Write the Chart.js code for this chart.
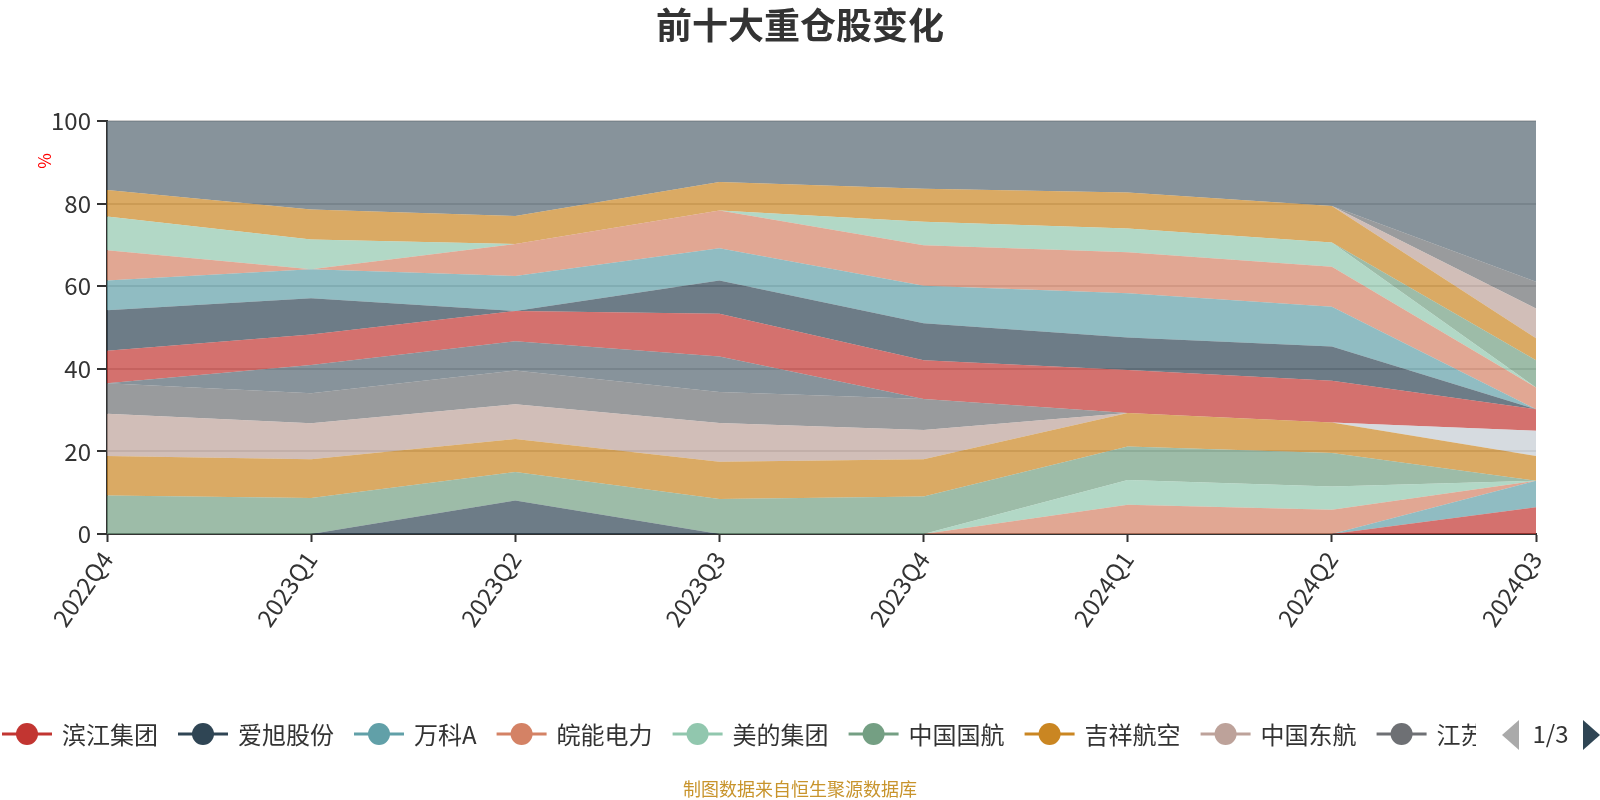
<!DOCTYPE html>
<html>
<head>
<meta charset="utf-8">
<script src="https://cdn.jsdelivr.net/npm/chart.js@4.4.1/dist/chart.umd.min.js"></script>
<style>
html, body { margin: 0; padding: 0; background: #ffffff; }
#wrap { width: 1600px; height: 800px; }
</style>
</head>
<body>
<div id="wrap"><canvas id="c" width="1600" height="800"></canvas></div>
<script>
// ---- categories & labels ----
const quarters = ['2022Q4', '2023Q1', '2023Q2', '2023Q3', '2023Q4', '2024Q1', '2024Q2', '2024Q3'];
const seriesNames = ['滨江集团', '爱旭股份', '万科A', '皖能电力', '美的集团', '中国国航', '吉祥航空', '中国东航', '江苏银行',
  '持仓10', '持仓11', '持仓12', '持仓13', '持仓14', '持仓15', '持仓16', '持仓17', '持仓18', '持仓19', '持仓20', '其他'];
const palette = ['#c23531', '#2f4554', '#61a0a8', '#d48265', '#91c7ae', '#749f83', '#ca8622', '#bda29a', '#6e7074', '#546570', '#c4ccd3'];
const yTicks = [0, 20, 40, 60, 80, 100];
const legendPageText = '1/3';
const titleText = '前十大重仓股变化';
const sourceText = '制图数据来自恒生聚源数据库';
const yUnit = '%';

// ---- series values (%), one array per series, stacked in this order ----
const s00 = [0, 0, 0, 0, 0, 0, 0, 6.5];
const s01 = [0, 0, 8.1, 0, 0, 0, 0, 0];
const s02 = [0, 0, 0, 0, 0, 0, 0, 6.4];
const s03 = [0, 0, 0, 0, 0, 7.1, 5.9, 0];
const s04 = [0, 0, 0, 0, 0, 6.0, 5.6, 0];
const s05 = [9.3, 8.7, 6.9, 8.5, 9.1, 8.1, 8.1, 0];
const s06 = [9.6, 9.4, 8.0, 9.0, 9.0, 8.1, 7.4, 6.0];
const s07 = [10.2, 8.7, 8.4, 9.4, 7.1, 0, 0, 0];
const s08 = [7.4, 7.3, 8.2, 7.5, 7.5, 0, 0, 0];
const s09 = [0, 6.8, 7.1, 8.6, 0, 0, 0, 0];
const s10 = [0, 0, 0, 0, 0, 0, 0, 6.1];
const s11 = [7.9, 7.4, 7.3, 10.3, 9.4, 10.4, 10.1, 5.2];
const s12 = [9.8, 8.8, 0, 8.1, 8.9, 7.9, 8.3, 0];
const s13 = [7.2, 7.0, 8.5, 7.8, 9.1, 10.7, 9.6, 0];
const s14 = [7.3, 0, 7.7, 9.1, 9.8, 9.9, 9.7, 5.3];
const s15 = [8.2, 7.2, 0, 0, 5.7, 5.8, 5.9, 0];
const s16 = [0, 0, 0, 0, 0, 0, 0, 6.6];
const s17 = [6.4, 7.3, 6.8, 6.9, 8.0, 8.7, 8.8, 5.3];
const s18 = [0, 0, 0, 0, 0, 0, 0, 7.2];
const s19 = [0, 0, 0, 0, 0, 0, 0, 6.5];
const s20 = [16.7, 21.4, 23.0, 14.8, 16.4, 17.3, 20.6, 38.9];
const seriesValues = [s00, s01, s02, s03, s04, s05, s06, s07, s08, s09, s10,
  s11, s12, s13, s14, s15, s16, s17, s18, s19, s20];

const FONT = "'Noto Sans CJK SC', 'Microsoft YaHei', sans-serif";
Chart.defaults.font.family = FONT;

function rgba(hex, a) {
  const n = parseInt(hex.slice(1), 16);
  return 'rgba(' + ((n >> 16) & 255) + ',' + ((n >> 8) & 255) + ',' + (n & 255) + ',' + a + ')';
}

const decorPlugin = {
  id: 'decor',
  afterDraw(chart) {
    const ctx = chart.ctx;
    // title
    ctx.save();
    ctx.fillStyle = '#333';
    ctx.font = 'bold 36px ' + FONT;
    ctx.textAlign = 'center';
    ctx.textBaseline = 'middle';
    ctx.fillText(titleText, 800, 25);
    ctx.restore();

    // y unit label
    ctx.save();
    ctx.fillStyle = '#ff0000';
    ctx.font = '17px ' + FONT;
    ctx.textAlign = 'center';
    ctx.textBaseline = 'middle';
    ctx.translate(44.5, 161);
    ctx.rotate(-Math.PI / 2);
    ctx.fillText(yUnit, 0, 0);
    ctx.restore();

    // legend (page 1 of scrolling legend)
    const ly = 734;
    ctx.save();
    ctx.beginPath();
    ctx.rect(0, 700, 1476, 70);
    ctx.clip();
    ctx.font = '24px ' + FONT;
    ctx.textBaseline = 'middle';
    ctx.textAlign = 'left';
    let x = 2;
    for (let i = 0; i < 9; i++) {
      const c = palette[i % palette.length];
      ctx.strokeStyle = c;
      ctx.lineWidth = 3;
      ctx.beginPath();
      ctx.moveTo(x, ly);
      ctx.lineTo(x + 50, ly);
      ctx.stroke();
      ctx.fillStyle = c;
      ctx.beginPath();
      ctx.arc(x + 25, ly, 11, 0, Math.PI * 2);
      ctx.fill();
      ctx.fillStyle = '#333';
      ctx.fillText(seriesNames[i], x + 60, ly + 1);
      x += 60 + ctx.measureText(seriesNames[i]).width + 20;
    }
    ctx.restore();

    // pager
    ctx.save();
    ctx.fillStyle = '#aaaaaa';
    ctx.beginPath();
    ctx.moveTo(1502, 735);
    ctx.lineTo(1519, 720);
    ctx.lineTo(1519, 750);
    ctx.closePath();
    ctx.fill();
    ctx.fillStyle = '#2f4554';
    ctx.beginPath();
    ctx.moveTo(1600, 735);
    ctx.lineTo(1583, 720);
    ctx.lineTo(1583, 750);
    ctx.closePath();
    ctx.fill();
    ctx.fillStyle = '#333';
    ctx.font = '24px ' + FONT;
    ctx.textAlign = 'center';
    ctx.textBaseline = 'middle';
    ctx.fillText(legendPageText, 1550.5, 734);
    ctx.restore();

    // source note
    ctx.save();
    ctx.fillStyle = '#c8942c';
    ctx.font = '18px ' + FONT;
    ctx.textAlign = 'center';
    ctx.textBaseline = 'middle';
    ctx.fillText(sourceText, 800, 789);
    ctx.restore();
  }
};

new Chart(document.getElementById('c'), {
  type: 'line',
  data: {
    labels: quarters,
    datasets: seriesValues.map((v, i) => ({
      label: seriesNames[i],
      data: v,
      backgroundColor: rgba(palette[i % palette.length], 0.7),
      borderColor: palette[i % palette.length],
      borderWidth: 0,
      pointRadius: 0,
      pointHoverRadius: 0,
      tension: 0,
      fill: i === 0 ? 'origin' : '-1'
    }))
  },
  options: {
    responsive: false,
    animation: false,
    devicePixelRatio: 1,
    layout: { padding: { left: 0, right: 64, top: 121, bottom: 136 } },
    plugins: {
      legend: { display: false },
      tooltip: { enabled: false },
      title: { display: false }
    },
    scales: {
      x: {
        offset: false,
        grid: { drawOnChartArea: false, drawTicks: true, tickLength: 8, tickColor: '#333', tickWidth: 2 },
        border: { color: '#333', width: 2 },
        ticks: { color: '#333', font: { size: 24 }, minRotation: 55, maxRotation: 55, padding: 4, autoSkip: false },
        afterFit(s) { s.height = 130; }
      },
      y: {
        stacked: true,
        min: 0,
        max: 100,
        afterBuildTicks(s) { s.ticks = yTicks.map(v => ({ value: v })); },
        ticks: { color: '#333', font: { size: 24 }, padding: 6 },
        grid: { color: '#cccccc', lineWidth: 2, tickColor: '#333', tickLength: 10, tickWidth: 2 },
        border: { color: '#333', width: 2 },
        afterFit(s) { s.width = 107; }
      }
    }
  },
  plugins: [decorPlugin]
});
</script>
</body>
</html>
